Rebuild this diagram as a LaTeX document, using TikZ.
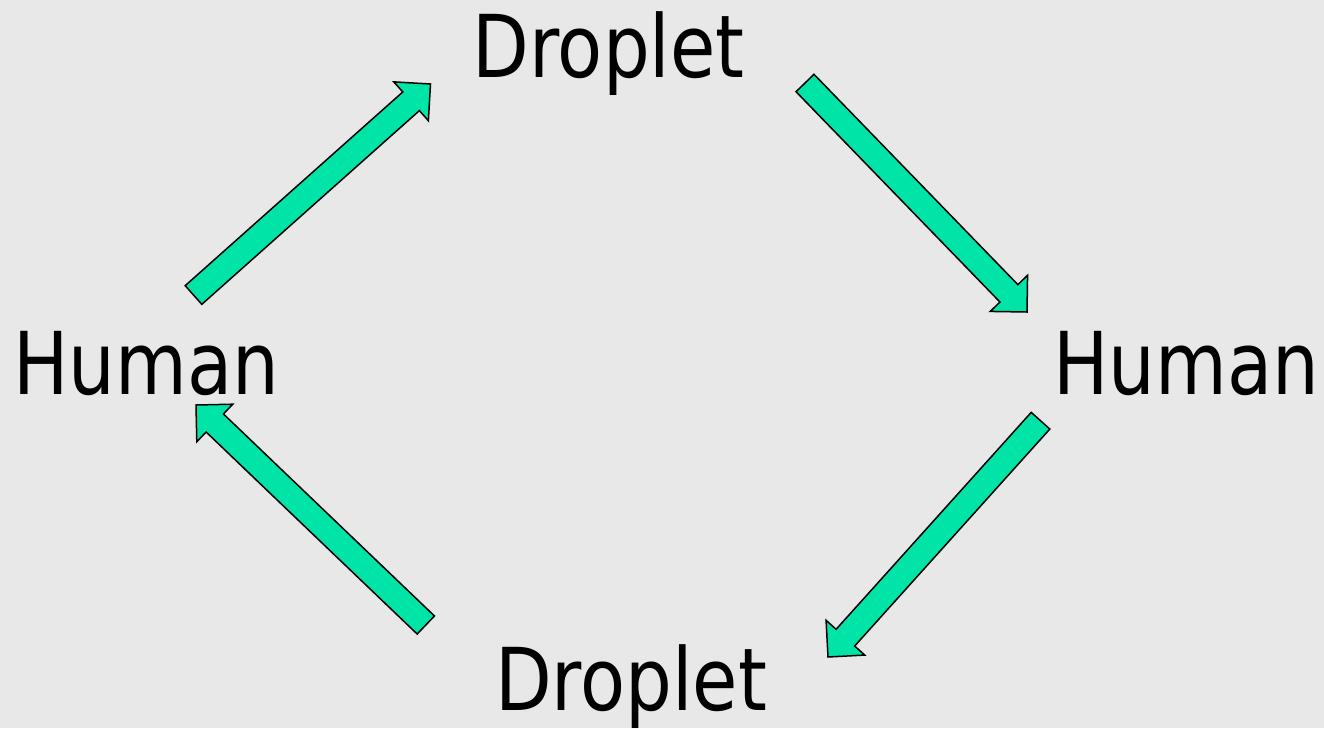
\documentclass[tikz,border=0pt]{standalone}
\usepackage{fontspec}
\setmainfont{DejaVu Sans}[FakeStretch=0.85]
\usetikzlibrary{calc}
\definecolor{bg}{RGB}{232,232,232}
\definecolor{arrowgreen}{RGB}{0,228,168}
\tikzset{
  lbl/.style={inner sep=0pt, anchor=base, font=\fontsize{86.7}{100}\selectfont},
  blockarrow/.style={fill=arrowgreen, draw=black, line width=1.5pt, line join=miter}
}
\newcommand\myblockarrow[2]{% #1 tail, #2 tip
  \coordinate (hb) at ($(#2)!26pt!(#1)$);
  \draw[blockarrow]
    ($(#1)!12.5pt!90:(#2)$) -- ($(hb)!12.5pt!90:(#2)$) -- ($(hb)!26pt!90:(#2)$)
    -- (#2) -- ($(hb)!26pt!-90:(#2)$) -- ($(hb)!12.5pt!-90:(#2)$)
    -- ($(#1)!12.5pt!-90:(#2)$) -- cycle;
}
\begin{document}
\begin{tikzpicture}[x=1pt,y=-1pt]
  \fill[bg] (0,0) rectangle (1324,728);
  \useasboundingbox (0,0) rectangle (1324,728);

  \node[lbl] (droplettop) at (608.5,77.5) {Droplet};
  \node[lbl] (dropletbot) at (631,710) {Droplet};
  \node[lbl] (humanleft) at (146,394) {Human};
  \node[lbl] (humanright) at (1186,394) {Human};

  \coordinate (a1t) at (193.5,295);
  \coordinate (a1p) at (430.5,84);
  \coordinate (a2t) at (805,83);
  \coordinate (a2p) at (1027,312);
  \coordinate (a3t) at (1040.5,420.7);
  \coordinate (a3p) at (828,657);
  \coordinate (a4t) at (425.8,625);
  \coordinate (a4p) at (196,405);

  \myblockarrow{a1t}{a1p}
  \myblockarrow{a2t}{a2p}
  \myblockarrow{a3t}{a3p}
  \myblockarrow{a4t}{a4p}
\end{tikzpicture}
\end{document}
